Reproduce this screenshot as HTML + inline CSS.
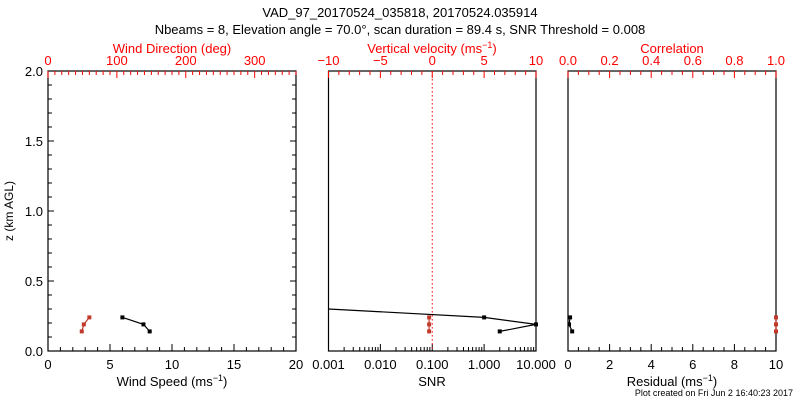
<!DOCTYPE html>
<html><head><meta charset="utf-8"><style>
html,body{margin:0;padding:0;background:#fff;width:800px;height:400px;overflow:hidden}
svg{display:block;font-family:"Liberation Sans",sans-serif}
</style></head><body>
<svg id="c" width="800" height="400" viewBox="0 0 800 400">
<text x="400" y="17" text-anchor="middle" font-size="13">VAD_97_20170524_035818, 20170524.035914</text>
<text x="400" y="34" text-anchor="middle" font-size="13">Nbeams = 8, Elevation angle = 70.0°, scan duration = 89.4 s, SNR Threshold = 0.008</text>
<text x="13" y="211" text-anchor="middle" font-size="12" transform="rotate(-90 13 211)">z (km AGL)</text>
</svg>
<script>
const heights=[0.14,0.19,0.24];
const windSpeed=[8.2,7.7,6.0];
const windDir=[49,52,60];
const snrHeights=[0.14,0.19,0.24,0.32];
const snr=[2.0,10.0,1.0,0.0001];
const wVel=[-0.3,-0.3,-0.3];
const residual=[0.2,0.05,0.1];
const corr=[1.0,1.0,1.0];
const yTicks=[0,0.5,1.0,1.5,2.0];
const yTickLabels=["0.0","0.5","1.0","1.5","2.0"];

const svg=document.getElementById('c');
const NS='http://www.w3.org/2000/svg';
const Y0=351,Y1=71;
const y=z=>Y0-(z/2)*(Y0-Y1);
function el(t,a,parent){const e=document.createElementNS(NS,t);for(const k in a)e.setAttribute(k,a[k]);(parent||svg).appendChild(e);return e;}
function txt(x,yy,s,col,anchor,name){const t=el('text',{x:x,y:yy,'font-size':13,fill:col,'text-anchor':anchor||'middle'});t.textContent=s;


return t;}
function lin(x1,y1,x2,y2,col,name,extra){const l=el('line',Object.assign({x1:x1,y1:y1,x2:x2,y2:y2,stroke:col,'stroke-width':1},extra||{}));


return l;}

const panels=[{x0:48,x1:296},{x0:328.5,x1:536},{x0:568,x1:776}];
panels.forEach((p,i)=>{const r=el('rect',{x:p.x0,y:Y1,width:p.x1-p.x0,height:Y0-Y1,fill:'none',stroke:'#000','stroke-width':1.2});

});

// y axis ticks panel 1
for(let k=0;k<=20;k++){const z=k/10;const L=(k%5==0)?6:4;
lin(48,y(z),48+L,y(z),'#000','y-tick');lin(296,y(z),296-L,y(z),'#000','y-tick-right');}
yTicks.forEach((z,i)=>txt(43,y(z)+5,yTickLabels[i],'#000','end','y-tick-label'));

// generic linear axis
function linAxis(p,min,max,major,minor,labels,top,col){
 const sx=v=>p.x0+(v-min)/(max-min)*(p.x1-p.x0);
 const yy=top?Y1:Y0, dir=top?1:-1;
 for(let v=min;v<=max+1e-9;v+=minor){const isM=Math.abs(v/major-Math.round(v/major))<1e-6;lin(sx(v),yy,sx(v),yy+dir*(isM?7:4),col,top?'top-tick':'bottom-tick');}
 labels.forEach(v=>txt(sx(v),top?Y1-6:Y0+18,String(v),col,'middle',top?'top-tick-label':'bottom-tick-label'));
 return sx;}
const red='#ff0000';
const sxSpeed=linAxis(panels[0],0,20,5,1,[0,5,10,15,20],false,'#000');
const sxDir=linAxis(panels[0],0,360,100,10,[0,100,200,300],true,red);
const sxW=linAxis(panels[1],-10,10,5,1,[],true,red);
[-10,-5,0,5,10].forEach(v=>txt(sxW(v),Y1-6,v<0?'\u2212'+(-v):String(v),red,'middle','top-tick-label'));
const sxRes=linAxis(panels[2],0,10,2,0.5,[0,2,4,6,8,10],false,'#000');
const sxCor=linAxis(panels[2],0,1,0.2,0.05,[],true,red);
[0,0.2,0.4,0.6,0.8,1.0].forEach(v=>txt(sxCor(v),Y1-6,v.toFixed(1),red,'middle','top-tick-label'));

// log axis for SNR
const lmin=-3,lmax=1,p2=panels[1];
const sxSnr=v=>p2.x0+(Math.log10(v)-lmin)/(lmax-lmin)*(p2.x1-p2.x0);
for(let d=lmin;d<lmax;d++){for(let m=1;m<=9;m++){const v=m*Math.pow(10,d);lin(sxSnr(v),Y0,sxSnr(v),Y0-(m==1?7:4),'#000','snr-tick');}}
lin(sxSnr(10),Y0,sxSnr(10),Y0-7,'#000','snr-tick');
['0.001','0.010','0.100','1.000','10.000'].forEach(s=>txt(sxSnr(parseFloat(s)),Y0+18,s,'#000','middle','snr-tick-label'));

// axis titles
txt(172,Y1-18,'Wind Direction (deg)',red,'middle','wind-direction-title');
const vt=txt(432,Y1-18,'Vertical velocity (ms',red,'middle','vertical-velocity-title');
vt.innerHTML='Vertical velocity (ms<tspan dy="-5" font-size="9">\u22121</tspan><tspan dy="5">)</tspan>';
txt(672,Y1-18,'Correlation',red,'middle','correlation-title');
const ws=txt(172,Y0+35,'',"#000",'middle','wind-speed-title');
ws.innerHTML='Wind Speed (ms<tspan dy="-5" font-size="9">\u22121</tspan><tspan dy="5">)</tspan>';
txt(432,Y0+35,'SNR','#000','middle','snr-title');
const rt=txt(672,Y0+35,'','#000','middle','residual-title');
rt.innerHTML='Residual (ms<tspan dy="-5" font-size="9">\u22121</tspan><tspan dy="5">)</tspan>';
const ft=txt(793,Y0+45,'Plot created on Fri Jun  2 16:40:23 2017','#000','end','plot-created-note');
ft.setAttribute('font-size','9');

// zero velocity line
lin(sxW(0),Y1,sxW(0),Y0,red,'zero-velocity-line',{'stroke-dasharray':'1.5,2.5'});

// clip paths
panels.forEach((p,i)=>{const cp=el('clipPath',{id:'clip'+i});el('rect',{x:p.x0,y:Y1,width:p.x1-p.x0+2,height:Y0-Y1},cp);});

function series(xs,zs,sx,col,name,ci){
 const g=el('g',{'clip-path':'url(#clip'+ci+')'});
 
 
 const pts=xs.map((v,i)=>sx(v).toFixed(1)+','+y(zs[i]).toFixed(1)).join(' ');
 el('polyline',{points:pts,fill:'none',stroke:col,'stroke-width':1.2},g);
 xs.forEach((v,i)=>{const r=el('rect',{x:sx(v)-2,y:y(zs[i])-2,width:4,height:4,fill:col},g);
 
 });
}
const dred='#c0392b';
series(windDir,heights,sxDir,dred,'wind-direction-series',0);
series(windSpeed,heights,sxSpeed,'#000','wind-speed-series',0);
series(wVel,heights,sxW,dred,'vertical-velocity-series',1);
series(snr,snrHeights,sxSnr,'#000','snr-series',1);
series(corr,heights,sxCor,dred,'correlation-series',2);
series(residual,heights,sxRes,'#000','residual-series',2);
</script>
</body></html>
